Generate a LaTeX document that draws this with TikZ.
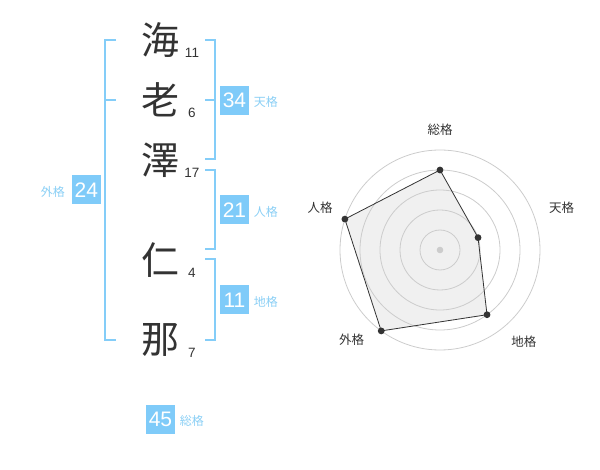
\documentclass[tikz,border=0pt]{standalone}
\usepackage{fontspec}
\setmainfont{Liberation Sans}
\newfontfamily\kanji{Noto Sans CJK JP}
\usetikzlibrary{positioning}
\definecolor{textdark}{HTML}{333333}
\definecolor{kakuline}{HTML}{84CDF8}
\definecolor{kakubox}{HTML}{7FCBF9}
\definecolor{kakulabel}{HTML}{8ACFF5}
\definecolor{ringgrey}{HTML}{CCCCCC}
\definecolor{polyfill}{HTML}{F0F0F0}
\begin{document}
\begin{tikzpicture}
[x=1pt,y=-1pt,
  kanjiDecorate/.style={font=\kanji\fontsize{38}{38}\selectfont,text=textdark,inner sep=0pt},%
  strokeDecorate/.style={font=\fontsize{13.5}{13.5}\selectfont,text=textdark,inner sep=0pt},%
  bracketDecorate/.style={draw=kakuline,line width=2pt},%
  scoreDecorate/.style={fill=kakubox,text=white,minimum size=29pt,inner sep=0pt,font=\fontsize{21}{21}\selectfont},%
  kakuDecorate/.style={font=\kanji\fontsize{12}{12}\selectfont,text=kakulabel,inner sep=0pt},%
  ringDecorate/.style={draw=ringgrey,line width=0.8pt},%
  axisDecorate/.style={font=\kanji\fontsize{12.5}{12.5}\selectfont,text=textdark,inner sep=0pt}]
\useasboundingbox (0,0) rectangle (600,470);
%% name characters and stroke counts
\foreach \nodename/\y/\kanjichar/\strokes in {
  c1/40/海/11, c2/100/老/6, c3/160/澤/17, c4/260/仁/4, c5/340/那/7}
{
  \node (\nodename) at (160,\y) [kanjiDecorate] {\kanjichar};
  \node (\nodename n) at (192,\y+12.5) [strokeDecorate] {\strokes};
}
%% brackets
\draw [bracketDecorate] (116,40) -- (105,40) -- (105,340) -- (116,340);
\draw [bracketDecorate] (105,100) -- (116,100);
\draw [bracketDecorate] (205,40) -- (215,40) -- (215,159) -- (205,159);
\draw [bracketDecorate] (205,100) -- (215,100);
\draw [bracketDecorate] (205,170) -- (215,170) -- (215,249) -- (205,249);
\draw [bracketDecorate] (205,259) -- (215,259) -- (215,340) -- (205,340);
%% scores
\foreach \nodename/\x/\y/\score/\kaku in {
  ten/234.5/100.5/34/天格, jin/234.5/210/21/人格,
  chi/234.5/300/11/地格, sou/160.5/419/45/総格}
{
  \node (\nodename) at (\x,\y) [scoreDecorate] {\score};
  \node [kakuDecorate,right=4.5pt of \nodename,yshift=-1.5pt] {\kaku};
}
\node (gai) at (86.3,190) [scoreDecorate] {24};
\node [kakuDecorate,left=6.5pt of gai,yshift=-1.5pt] {外格};
%% radar chart
\begin{scope}[shift={(440,250)},yscale=-1]
\foreach \pname/\angle/\value in {
  p1/90/4, p2/18/2, p3/-54/4, p4/-126/5, p5/162/5}
{
  \coordinate (\pname) at (\angle:\value*20);
}
\fill [polyfill] (p1) -- (p2) -- (p3) -- (p4) -- (p5) -- cycle;
\foreach \r in {20,40,...,100}
  \draw [ringDecorate] (0,0) circle (\r);
\fill [ringgrey] (0,0) circle (3.3);
\draw [textdark,line width=0.8pt,line join=round] (p1) -- (p2) -- (p3) -- (p4) -- (p5) -- cycle;
\foreach \pname in {p1,p2,p3,p4,p5}
  \fill [textdark] (\pname) circle (3.4);
\foreach \lname/\angle/\rad/\axis in {
  l1/90/120/総格, l2/19/128.6/天格, l3/-47.5/124/地格,
  l4/-134.5/126/外格, l5/160.8/127/人格}
{
  \node (\lname) at (\angle:\rad) [axisDecorate] {\axis};
}
\end{scope}
\end{tikzpicture}
\end{document}
